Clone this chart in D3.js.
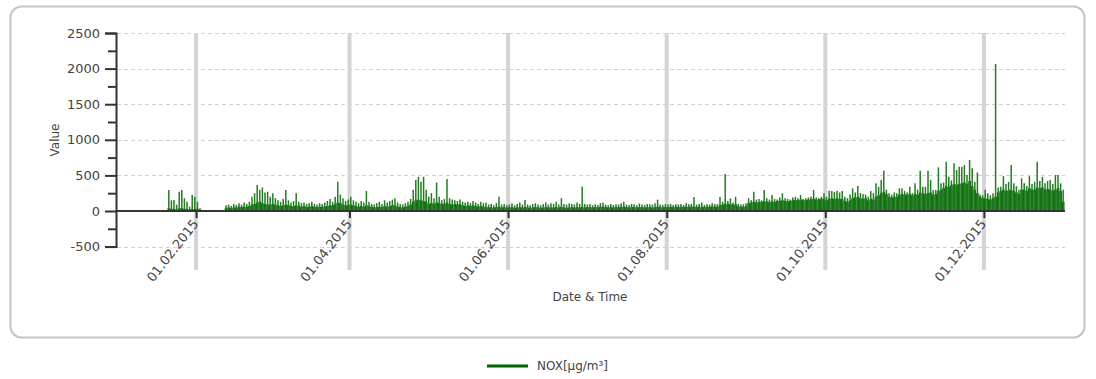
<!DOCTYPE html>
<html>
<head>
<meta charset="utf-8">
<script src="https://cdn.jsdelivr.net/npm/d3@7"></script>
<style>
  body { margin: 0; background: #fff; }
  text { font-family: "DejaVu Sans", sans-serif; fill: #444; }
</style>
</head>
<body>
<svg id="chart" width="1096" height="379"></svg>
<script>
// daily NOx readings (peak = highest spike of the day, level = dense body of the day)
const n = null
const janPeak = [n,n,n,n,n,n,n,n,n,n,n,n,n,n,n,n,n,n,n,n, 295,150,155,90,270,295,180,130,60,225,200]
const janLevel = [n,n,n,n,n,n,n,n,n,n,n,n,n,n,n,n,n,n,n,n, 40,30,30,20,40,40,30,30,20,30,30]
const febPeak = [130,40, n,n,n,n,n,n,n,n,n, 80,90,70,100,85,110,90,120,100,130,200,250,365,300,330,260,270]
const febLevel = [30,20, n,n,n,n,n,n,n,n,n, 40,50,40,50,50,60,55,60,60,70,90,100,120,130,110,100,90]
const marPeak = [200,250,180,150,130,170,295,150,120,140,250,130,110,120,100,110,130,100,90,110,100,120,140,170,130,200,410,230,180,140,160]
const marLevel = [90,100,90,80,70,80,90,80,70,70,80,70,60,70,60,60,70,60,55,60,60,65,70,80,80,100,120,110,90,80,80]
const aprPeak = [200,150,130,110,140,120,280,130,100,90,110,130,100,150,120,140,160,180,120,100,90,110,130,170,300,435,480,410,480,300]
const aprLevel = [90,80,70,60,70,60,80,70,60,50,55,60,55,70,60,70,80,80,60,55,50,60,70,90,130,150,160,150,140,130]
const mayPeak = [200,250,180,400,200,150,170,450,180,160,150,140,160,130,120,130,110,140,120,100,130,110,120,90,100,80,110,200,90,100,80]
const mayLevel = [100,110,100,120,110,100,100,120,100,90,100,90,100,80,70,80,70,80,70,60,70,60,60,50,55,45,55,60,50,55,45]
const junPeak = [90,110,80,100,120,90,155,90,80,100,110,90,80,100,120,90,110,100,130,90,180,100,90,110,100,90,120,100,340,100]
const junLevel = [50,55,45,50,55,50,55,50,45,50,55,50,45,50,55,50,50,50,55,50,60,50,45,50,55,50,55,50,60,50]
const julPeak = [90,100,80,95,85,110,115,90,80,100,85,95,90,110,130,90,85,100,95,80,105,90,85,100,95,90,110,160,90,85,95]
const julLevel = [55,55,50,55,50,60,60,55,50,55,50,55,55,60,60,55,50,55,55,50,55,55,50,55,55,50,55,60,55,50,55]
const augPeak = [90,100,85,95,90,100,85,110,95,100,195,90,100,120,85,95,90,110,100,95,195,130,520,140,178,120,200,100,90,95,110]
const augLevel = [55,60,55,60,55,60,55,60,60,60,65,55,60,60,55,60,60,65,60,60,80,90,100,100,95,90,90,65,60,60,65]
const sepPeak = [180,150,270,160,170,150,295,180,160,225,170,160,190,250,180,170,160,190,200,180,225,170,180,190,200,295,190,180,200,250]
const sepLevel = [110,120,130,120,125,130,140,130,125,135,130,140,145,150,140,135,140,150,155,150,160,150,155,160,165,170,160,165,170,175]
const octPeak = [200,285,280,270,285,260,280,200,180,230,318,260,350,250,240,230,200,280,250,390,340,435,566,300,250,230,260,250,318,318,280]
const octLevel = [150,170,180,170,180,170,170,140,130,150,180,190,200,180,170,180,150,170,160,200,220,250,270,240,200,190,200,200,230,240,230]
const novPeak = [260,340,250,390,300,566,340,340,566,435,295,300,613,390,400,693,480,430,670,575,620,620,645,505,715,600,410,540,230,220]
const novLevel = [230,240,220,240,230,260,250,240,250,260,230,240,280,300,320,350,340,360,380,370,380,390,400,380,420,350,300,250,200,180]
const decPeak = [300,250,220,250,2065,330,340,490,380,410,645,390,350,300,460,390,350,490,380,410,690,420,480,390,420,435,380,505,505,390,300]
const decLevel = [180,170,160,180,200,260,280,300,280,290,300,280,260,240,300,300,280,320,300,300,330,320,330,300,310,300,290,300,320,280,130]

const yTicks = [-500, 0, 500, 1000, 1500, 2000, 2500]
const xTickDates = ["2015-02-01", "2015-04-01", "2015-06-01", "2015-08-01", "2015-10-01", "2015-12-01"]
const seriesName = "NOX[µg/m³]"

const peaks = [janPeak, febPeak, marPeak, aprPeak, mayPeak, junPeak, julPeak, augPeak, sepPeak, octPeak, novPeak, decPeak]
const levels = [janLevel, febLevel, marLevel, aprLevel, mayLevel, junLevel, julLevel, augLevel, sepLevel, octLevel, novLevel, decLevel]

const data = []
peaks.forEach((arr, m) => {
  arr.forEach((p, i) => {
    if (p === null) return
    data.push({ date: new Date(2015, m, i + 1), peak: p, level: levels[m][i] })
  })
})

const svg = d3.select("#chart")

svg.append("rect")
  .attr("x", 10.5).attr("y", 6.5)
  .attr("width", 1074).attr("height", 331)
  .attr("rx", 11)
  .style("fill", "none")
  .style("stroke", "#c4c4c4")
  .style("stroke-width", 2)

const x = d3.scaleTime()
  .domain([new Date(2015, 0, 1), new Date(2016, 0, 1)])
  .range([115.5, 1064.5])
const y = d3.scaleLinear()
  .domain([-500, 2500])
  .range([246.6, 33])

const g = svg.append("g")

// dashed horizontal grid
g.selectAll(".grid")
  .data(yTicks.filter(v => v !== 0))
  .enter().append("line")
  .attr("class", "grid")
  .attr("x1", 117).attr("x2", 1065)
  .attr("y1", d => Math.round(y(d)) + 0.5)
  .attr("y2", d => Math.round(y(d)) + 0.5)
  .style("stroke", "#d2d2d2")
  .style("stroke-dasharray", "4,3")

// grey month bands
g.selectAll(".band")
  .data(xTickDates)
  .enter().append("line")
  .attr("class", "band")
  .attr("x1", d => x(new Date(d))).attr("x2", d => x(new Date(d)))
  .attr("y1", 33).attr("y2", 270)
  .style("stroke", "#d4d4d4")
  .style("stroke-width", 4)

const dayW = x(new Date(2015, 0, 2)) - x(new Date(2015, 0, 1))

g.selectAll(".lvl")
  .data(data)
  .enter().append("rect")
  .attr("class", "lvl")
  .attr("x", d => x(d.date))
  .attr("width", dayW)
  .attr("y", d => y(d.level))
  .attr("height", d => y(0) - y(d.level))
  .style("fill", "#006400")

g.selectAll(".pk")
  .data(data)
  .enter().append("line")
  .attr("class", "pk")
  .attr("x1", d => x(d.date) + dayW / 2)
  .attr("x2", d => x(d.date) + dayW / 2)
  .attr("y1", y(0))
  .attr("y2", d => y(d.peak))
  .style("stroke", "#207d20")
  .style("stroke-width", 1.5)

// y axis
const yAxis = g.append("g")
  .attr("transform", "translate(116,0)")
  .call(d3.axisLeft(y).tickValues(yTicks).tickSize(11).tickPadding(5).tickFormat(d => String(d)))
yAxis.select(".domain").style("stroke", "#333").style("stroke-width", 2)
yAxis.selectAll(".tick line").style("stroke", "#333").style("stroke-width", 2)
yAxis.selectAll(".tick text").style("font-size", "13px").style("fill", "#444")
  .style("font-family", "DejaVu Sans")
g.append("g")
  .attr("transform", "translate(116,0)")
  .call(d3.axisLeft(y).tickValues(d3.range(-250, 2500, 500)).tickSize(8).tickFormat(""))
  .call(a => a.select(".domain").remove())
  .selectAll(".tick line").style("stroke", "#333").style("stroke-width", 2)

// x axis on zero line
const xAxis = g.append("g")
  .attr("transform", `translate(0,${y(0)})`)
  .call(d3.axisBottom(x).tickValues(xTickDates.map(d => new Date(d))).tickSize(7).tickFormat(""))
xAxis.select(".domain").attr("d", `M116,0H1065`).style("stroke", "#333").style("stroke-width", 2)
xAxis.selectAll(".tick line").style("stroke", "#333").style("stroke-width", 2)

g.selectAll(".xlab")
  .data(xTickDates)
  .enter().append("text")
  .attr("class", "xlab")
  .attr("transform", d => `translate(${x(new Date(d)) + 3},${y(0) + 13}) rotate(-52)`)
  .attr("text-anchor", "end")
  .style("font-size", "13px")
  .text(d => d3.timeFormat("%d.%m.%Y")(new Date(d)))

svg.append("text")
  .attr("transform", "translate(59,140) rotate(-90)")
  .attr("text-anchor", "middle")
  .style("font-size", "12px")
  .text("Value")

svg.append("text")
  .attr("x", 590).attr("y", 301)
  .attr("text-anchor", "middle")
  .style("font-size", "12px")
  .text("Date & Time")

// legend
svg.append("line")
  .attr("x1", 487).attr("x2", 528)
  .attr("y1", 366).attr("y2", 366)
  .style("stroke", "#006400")
  .style("stroke-width", 3)
svg.append("text")
  .attr("x", 537).attr("y", 370)
  .style("font-size", "12px")
  .text(seriesName)
</script>
</body>
</html>
